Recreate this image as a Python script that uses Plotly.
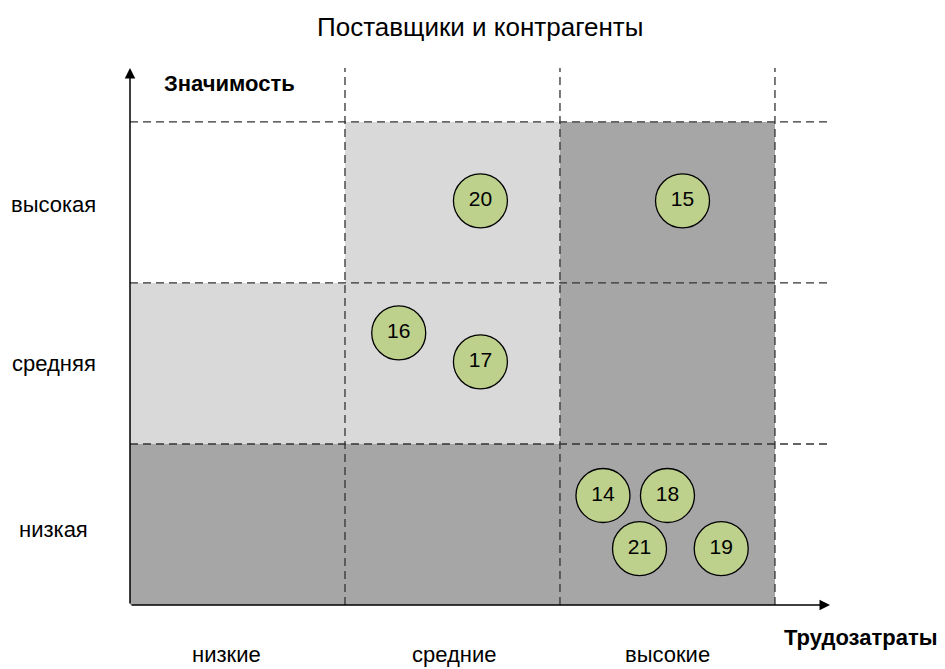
import plotly.graph_objects as go

# ---- data ----
title = "Поставщики и контрагенты"
x_categories = ["низкие", "средние", "высокие"]          # Трудозатраты
y_categories = ["низкая", "средняя", "высокая"]          # Значимость
# cell shade levels, rows bottom->top (0 white, 1 light, 2 dark)
cell_levels = [
    [2, 2, 2],   # низкая
    [1, 1, 2],   # средняя
    [0, 1, 2],   # высокая
]
item_labels = ["20", "15", "16", "17", "14", "18", "21", "19"]
item_x = [1.63, 2.57, 1.25, 1.63, 2.20, 2.50, 2.37, 2.75]
item_y = [2.51, 2.51, 1.69, 1.51, 0.68, 0.68, 0.35, 0.35]

FONT = "Arial, Liberation Sans, sans-serif"
XMAX, YMAX = 3.256, 3.335

fig = go.Figure()

fig.add_trace(go.Heatmap(
    x=[i + 0.5 for i in range(len(x_categories))],
    y=[i + 0.5 for i in range(len(y_categories))],
    z=cell_levels, zmin=0, zmax=2,
    colorscale=[[0, "#ffffff"], [0.5, "#d9d9d9"], [1, "#a6a6a6"]],
    showscale=False, hoverinfo="skip", xgap=0, ygap=0,
))

fig.add_trace(go.Scatter(
    x=item_x, y=item_y, text=item_labels, mode="markers+text",
    marker=dict(size=54, color="#bdd08c", line=dict(color="#000000", width=1.3)),
    textfont=dict(family=FONT, size=21, color="#000000"),
    textposition="middle center", hoverinfo="skip", cliponaxis=False,
))

shapes = []
n = len(x_categories)
for k in range(1, n + 1):
    shapes.append(dict(type="line", xref="x", yref="y", x0=k, x1=k, y0=0, y1=YMAX,
                       line=dict(color="#333333", width=1.3, dash="8px,5px"), layer="above"))
    shapes.append(dict(type="line", xref="x", yref="y", x0=0, x1=XMAX, y0=k, y1=k,
                       line=dict(color="#333333", width=1.3, dash="8px,5px"), layer="above"))
fig.update_layout(shapes=shapes)

annotations = []
# axis arrows
annotations.append(dict(x=0, y=YMAX, ax=0, ay=0, xref="x", yref="y", axref="x", ayref="y",
                        text="", showarrow=True, arrowhead=2, arrowsize=1.4, arrowwidth=1.5,
                        arrowcolor="#000"))
annotations.append(dict(x=XMAX, y=0, ax=0, ay=0, xref="x", yref="y", axref="x", ayref="y",
                        text="", showarrow=True, arrowhead=2, arrowsize=1.4, arrowwidth=1.5,
                        arrowcolor="#000"))
# category labels
xlab_shift = [-0.053, 0.01, 0.0]
for i, lab in enumerate(x_categories):
    annotations.append(dict(x=i + 0.5 + xlab_shift[i], y=-0.0925, xref="x", yref="paper", text=lab,
                            showarrow=False, xanchor="center", yanchor="middle",
                            font=dict(family=FONT, size=22, color="#000")))
ylab_shift = [-0.03, 0.0, -0.01]
for i, lab in enumerate(y_categories):
    annotations.append(dict(x=-0.109, y=i + 0.5 + ylab_shift[i], xref="paper", yref="y", text=lab,
                            showarrow=False, xanchor="center", yanchor="middle",
                            font=dict(family=FONT, size=22, color="#000")))
annotations.append(dict(x=0.465, y=3.24, xref="x", yref="y", text="<b>Значимость</b>",
                        showarrow=False, xanchor="center", yanchor="middle",
                        font=dict(family=FONT, size=22, color="#000")))
annotations.append(dict(x=1.044, y=-0.0596, xref="paper", yref="paper", text="<b>Трудозатраты</b>",
                        showarrow=False, xanchor="center", yanchor="middle",
                        font=dict(family=FONT, size=22, color="#000")))
fig.update_layout(annotations=annotations)

fig.update_layout(
    width=937, height=661,
    margin=dict(l=122, r=115, t=60, b=64),
    paper_bgcolor="#ffffff", plot_bgcolor="#ffffff",
    showlegend=False,
    title=dict(text=title, x=0.504, xanchor="center", y=0.971, yanchor="middle",
               font=dict(family=FONT, size=26, color="#000")),
    xaxis=dict(range=[0, XMAX], visible=False, fixedrange=True),
    yaxis=dict(range=[0, YMAX], visible=False, fixedrange=True),
)

fig.write_html("out.html")
